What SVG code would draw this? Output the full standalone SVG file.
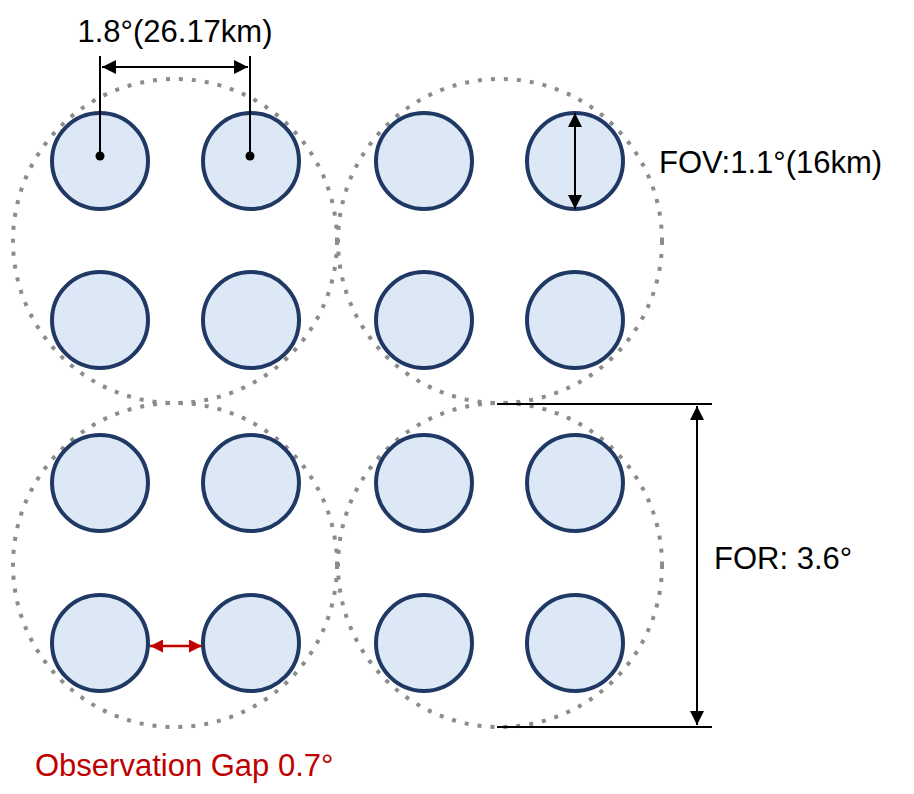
<svg xmlns="http://www.w3.org/2000/svg" width="914" height="794" viewBox="0 0 914 794">
<style>
.s{fill:#dce8f5;stroke:#1f3864;stroke-width:4}
.b{fill:none;stroke:#8c8c8c;stroke-width:4;stroke-dasharray:4 9}
.l{stroke:#000;stroke-width:2;fill:none}
text{font-family:"Liberation Sans",Arial,sans-serif;font-size:31px}
</style>
<defs>
<marker id="a" viewBox="0 0 10 10" refX="10" refY="5" markerWidth="14" markerHeight="14" markerUnits="userSpaceOnUse" orient="auto-start-reverse"><path d="M0,0L10,5L0,10z" fill="#000"/></marker>
<marker id="ar" viewBox="0 0 10 10" refX="10" refY="5" markerWidth="13" markerHeight="13" markerUnits="userSpaceOnUse" orient="auto-start-reverse"><path d="M0,0L10,5L0,10z" fill="#c00000"/></marker>
</defs>
<g id="for-regions">
<circle class="b" cx="175" cy="241" r="162"/>
<circle class="b" cx="500" cy="241" r="162"/>
<circle class="b" cx="175" cy="565" r="162"/>
<circle class="b" cx="500" cy="565" r="162"/>
</g>
<g id="fov-circles">
<circle class="s" cx="100" cy="161" r="48"/><circle class="s" cx="251" cy="161" r="48"/>
<circle class="s" cx="424" cy="161" r="48"/><circle class="s" cx="575" cy="161" r="48"/>
<circle class="s" cx="100" cy="320" r="48"/><circle class="s" cx="251" cy="320" r="48"/>
<circle class="s" cx="424" cy="320" r="48"/><circle class="s" cx="575" cy="320" r="48"/>
<circle class="s" cx="100" cy="483" r="48"/><circle class="s" cx="251" cy="483" r="48"/>
<circle class="s" cx="424" cy="483" r="48"/><circle class="s" cx="575" cy="483" r="48"/>
<circle class="s" cx="100" cy="643" r="48"/><circle class="s" cx="251" cy="643" r="48"/>
<circle class="s" cx="424" cy="643" r="48"/><circle class="s" cx="575" cy="643" r="48"/>
</g>
<g id="connectors">
<line class="l" x1="100" y1="56" x2="100" y2="156"/>
<line class="l" x1="250" y1="56" x2="250" y2="156"/>
<circle cx="100" cy="156" r="4.5"/><circle cx="250" cy="156" r="4.5"/>
<line class="l" x1="102" y1="67" x2="248" y2="67" marker-start="url(#a)" marker-end="url(#a)"/>
<line class="l" x1="575" y1="113" x2="575" y2="209" marker-start="url(#a)" marker-end="url(#a)"/>
<line class="l" x1="497" y1="404" x2="712" y2="404"/>
<line class="l" x1="497" y1="727" x2="712" y2="727"/>
<line class="l" x1="697" y1="406" x2="697" y2="725" marker-start="url(#a)" marker-end="url(#a)"/>
<line x1="150" y1="646" x2="202" y2="646" stroke="#c00000" stroke-width="2.5" marker-start="url(#ar)" marker-end="url(#ar)"/>
</g>
<g id="labels">
<text x="175" y="42" text-anchor="middle">1.8°(26.17km)</text>
<text x="659" y="173">FOV:1.1°(16km)</text>
<text x="714" y="569">FOR: 3.6°</text>
<text x="35" y="776" fill="#c00000">Observation Gap 0.7°</text>
</g>
</svg>
